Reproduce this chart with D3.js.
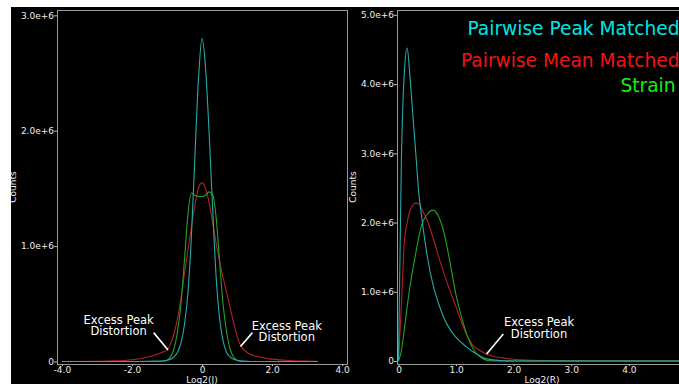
<!DOCTYPE html>
<html>
<head>
<meta charset="utf-8">
<script src="https://cdn.jsdelivr.net/npm/d3@7"></script>
<style>
  html, body { margin: 0; padding: 0; background: #fff; }
  svg { display: block; font-family: "DejaVu Sans", sans-serif; }
</style>
</head>
<body>
<div id="chart"></div>
<script>
// ---- data (counts in millions) ----
const jX = [-4.0, -3.0, -2.5, -2.0, -1.6, -1.3, -1.1, -1.0, -0.9, -0.8, -0.7, -0.6, -0.5, -0.4, -0.3, -0.2, -0.1, 0,
  0.1, 0.2, 0.3, 0.4, 0.5, 0.6, 0.7, 0.8, 0.9, 1.0, 1.1, 1.3, 1.6, 2.0, 2.5, 3.0, 3.3];
const jPeak = [0, 0, 0, 0, 0.001, 0.003, 0.006, 0.01, 0.02, 0.04, 0.08, 0.16, 0.32, 0.6, 1.1, 1.8, 2.45, 2.8,
  2.55, 2.0, 1.35, 0.75, 0.38, 0.18, 0.08, 0.04, 0.02, 0.01, 0.005, 0.002, 0, 0, 0, 0, 0];
const jMean = [0, 0.002, 0.005, 0.015, 0.035, 0.06, 0.085, 0.10, 0.15, 0.24, 0.37, 0.55, 0.76, 0.97, 1.17, 1.36, 1.50, 1.55,
  1.50, 1.38, 1.21, 1.03, 0.87, 0.73, 0.60, 0.47, 0.34, 0.22, 0.14, 0.075, 0.04, 0.02, 0.008, 0.003, 0.001];
const jStrain = [0, 0, 0, 0, 0, 0, 0.002, 0.01, 0.04, 0.11, 0.26, 0.50, 0.88, 1.28, 1.46, 1.44, 1.43, 1.43,
  1.44, 1.47, 1.45, 1.26, 0.88, 0.50, 0.26, 0.11, 0.04, 0.01, 0.002, 0, 0, 0, 0, 0, 0];

const rX = [0, 0.05, 0.1, 0.15, 0.2, 0.25, 0.3, 0.35, 0.4, 0.5, 0.6, 0.7, 0.8, 0.9, 1.0, 1.1, 1.2, 1.3, 1.4, 1.5,
  1.6, 1.8, 2.0, 2.2, 2.5, 3.0, 4.0, 5.0];
const rPeak = [0, 2.9, 4.15, 4.52, 4.1, 3.55, 3.0, 2.45, 2.1, 1.51, 1.10, 0.82, 0.60, 0.45, 0.34, 0.26, 0.19, 0.13, 0.08, 0.04,
  0.02, 0.005, 0.001, 0, 0, 0, 0, 0];
const rMean = [0, 0.8, 1.7, 2.0, 2.17, 2.25, 2.28, 2.27, 2.2, 2.03, 1.78, 1.50, 1.24, 1.0, 0.78, 0.55, 0.35, 0.22, 0.16, 0.11,
  0.08, 0.045, 0.025, 0.014, 0.007, 0.003, 0.001, 0];
const rStrain = [0, 0.15, 0.45, 0.78, 1.08, 1.33, 1.56, 1.78, 1.96, 2.12, 2.18, 2.08, 1.82, 1.40, 0.95, 0.62, 0.35, 0.17, 0.07, 0.02,
  0.005, 0, 0, 0, 0, 0, 0, 0];

const jTicks = [-4, -2, 0, 2, 4];
const jTickLabels = ['-4.0', '-2.0', '0', '2.0', '4.0'];
const rTicks = [0, 1, 2, 3, 4, 5];
const rTickLabels = ['0', '1.0', '2.0', '3.0', '4.0', '5.0'];
const jYTicks = [0, 1, 2, 3];
const jYTickLabels = ['0', '1.0e+6', '2.0e+6', '3.0e+6'];
const rYTicks = [0, 1, 2, 3, 4, 5];
const rYTickLabels = ['0', '1.0e+6', '2.0e+6', '3.0e+6', '4.0e+6', '5.0e+6'];

const seriesNames = ['Pairwise Peak Matched', 'Pairwise Mean Matched', 'Strain'];

// ---- layout ----
const W = 679, H = 384;
const lineColors = { peak: '#27a9a9', mean: '#b32222', strain: '#22a322' };
const legendColors = ['#00e5e5', '#f01414', '#14ee14'];

const svg = d3.select('#chart').append('svg')
  .attr('width', W)
  .attr('height', H);

svg.append('rect').attr('x', 0).attr('y', 0).attr('width', W).attr('height', H).attr('fill', '#fff');
svg.append('rect').attr('x', 11).attr('y', 7).attr('width', W - 11).attr('height', H - 7).attr('fill', '#000');

function panel(cfg) {
  const x = d3.scaleLinear().domain(cfg.xDomain).range([cfg.left, cfg.left + cfg.width]);
  const y = d3.scaleLinear().domain(cfg.yDomain).range([cfg.top + cfg.height, cfg.top]);

  const clipId = 'clip-' + cfg.name;
  svg.append('clipPath').attr('id', clipId)
    .append('rect')
    .attr('x', cfg.left).attr('y', cfg.top)
    .attr('width', cfg.width).attr('height', cfg.height);

  const line = d3.line()
    .curve(d3.curveMonotoneX)
    .x((d) => x(d[0]))
    .y((d) => y(d[1]));

  const g = svg.append('g').attr('clip-path', 'url(#' + clipId + ')');
  cfg.series.forEach((s) => {
    g.append('path')
      .datum(cfg.xs.map((v, i) => [v, s.values[i]]))
      .attr('fill', 'none')
      .attr('stroke', s.color)
      .attr('stroke-width', 1.1)
      .attr('d', line);
  });

  // frame
  svg.append('rect')
    .attr('x', cfg.left + 0.5).attr('y', cfg.top + 0.5)
    .attr('width', cfg.width).attr('height', cfg.height)
    .attr('fill', 'none')
    .attr('stroke', '#9a9a9a')
    .attr('stroke-width', 1);

  const xAxis = d3.axisBottom(x)
    .tickValues(cfg.xTicks)
    .tickFormat((d, i) => cfg.xTickLabels[i])
    .tickSize(2)
    .tickPadding(1);
  const yAxis = d3.axisLeft(y)
    .tickValues(cfg.yTicks)
    .tickFormat((d, i) => cfg.yTickLabels[i])
    .tickSize(3)
    .tickPadding(0);

  const xele = svg.append('g')
    .attr('transform', 'translate(0,' + (cfg.top + cfg.height) + ')')
    .call(xAxis);
  const yele = svg.append('g')
    .attr('transform', 'translate(' + cfg.left + ',0)')
    .call(yAxis);

  [xele, yele].forEach((a) => {
    a.select('.domain').remove();
    a.selectAll('line').attr('stroke', '#bbb');
    a.selectAll('text').attr('fill', '#eee').attr('font-size', 9).attr('font-family', 'DejaVu Sans');
  });

  svg.append('text')
    .attr('x', cfg.left + cfg.width / 2)
    .attr('y', 383)
    .attr('text-anchor', 'middle')
    .attr('fill', '#eee')
    .attr('font-size', 9)
    .text(cfg.xLabel);

  svg.append('text')
    .attr('transform', 'translate(' + (cfg.left - 41) + ',' + (cfg.top + cfg.height / 2) + ') rotate(-90)')
    .attr('text-anchor', 'middle')
    .attr('fill', '#eee')
    .attr('font-size', 9)
    .text('Counts');

  // annotations: label anchor + pointer, in data units
  cfg.notes.forEach((n) => {
    const t = svg.append('text')
      .attr('x', x(n.tx))
      .attr('y', y(n.ty))
      .attr('text-anchor', 'middle')
      .attr('fill', '#fff')
      .attr('font-size', 11.5);
    t.append('tspan').attr('x', x(n.tx)).text('Excess Peak');
    t.append('tspan').attr('x', x(n.tx)).attr('dy', 11.5).text('Distortion');
    svg.append('line')
      .attr('x1', x(n.from[0])).attr('y1', y(n.from[1]))
      .attr('x2', x(n.to[0])).attr('y2', y(n.to[1]))
      .attr('stroke', '#fff')
      .attr('stroke-width', 1.6);
  });

  return { x, y };
}

panel({
  name: 'j', left: 57, top: 10, width: 290, height: 354,
  xDomain: [-4.14, 4.14], yDomain: [-0.022, 3.046],
  xs: jX,
  series: [
    { values: jMean, color: lineColors.mean },
    { values: jStrain, color: lineColors.strain },
    { values: jPeak, color: lineColors.peak }
  ],
  xTicks: jTicks, xTickLabels: jTickLabels,
  yTicks: jYTicks, yTickLabels: jYTickLabels,
  xLabel: 'Log2(J)',
  notes: [
    { tx: -2.38, ty: 0.325, from: [-1.38, 0.25], to: [-0.97, 0.10] },
    { tx: 2.42, ty: 0.275, from: [1.44, 0.25], to: [1.1, 0.13] }
  ]
});

panel({
  name: 'r', left: 397, top: 10, width: 290, height: 354,
  xDomain: [-0.026, 5.01], yDomain: [-0.043, 5.07],
  xs: rX,
  series: [
    { values: rMean, color: lineColors.mean },
    { values: rStrain, color: lineColors.strain },
    { values: rPeak, color: lineColors.peak }
  ],
  xTicks: rTicks, xTickLabels: rTickLabels,
  yTicks: rYTicks, yTickLabels: rYTickLabels,
  xLabel: 'Log2(R)',
  notes: [
    { tx: 2.44, ty: 0.5, from: [1.82, 0.39], to: [1.53, 0.10] }
  ]
});

// legend
const legendY = [35, 66.7, 92.3];
const legendX = [679.5, 679.5, 675.5];
svg.selectAll('.legend').data(seriesNames)
  .enter()
  .append('text')
  .attr('class', 'legend')
  .attr('x', (d, i) => legendX[i])
  .attr('y', (d, i) => legendY[i])
  .attr('text-anchor', 'end')
  .attr('font-size', 18.6)
  .attr('fill', (d, i) => legendColors[i])
  .text((d) => d);
</script>
</body>
</html>
